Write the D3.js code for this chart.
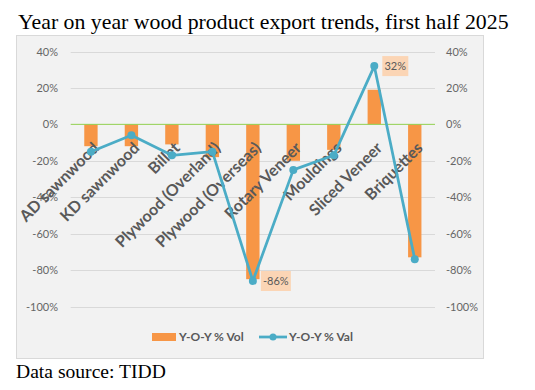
<!DOCTYPE html>
<html>
<head>
<meta charset="utf-8">
<script src="https://d3js.org/d3.v7.min.js"></script>
<style>
  body { margin: 0; background: #fff; }
</style>
</head>
<body>
<svg width="535" height="390"></svg>
<script>
const categories = ["AD sawnwood", "KD sawnwood", "Billet", "Plywood (Overland)", "Plywood  (Overseas)",
                    "Rotary Veneer", "Mouldings", "Sliced Veneer", "Briquettes"];
const volChange = [-12, -12, -11, -18, -85, -20, -14, 19, -73];
const valChange = [-15, -6, -17, -15, -86, -25, -17, 32, -74];
const labelled = [4, 7];   // points with a data label
const yTicks = [40, 20, 0, -20, -40, -60, -80, -100];

const svg = d3.select("svg");
const grey = "#595959";

// chart box
svg.append("rect")
  .attr("x", 16.5).attr("y", 35.5).attr("width", 467).attr("height", 323)
  .attr("fill", "#f2f2f2").attr("stroke", "#d9d9d9");

// title + source
svg.append("text").attr("x", 18).attr("y", 29)
  .style("font-family", "Liberation Serif").style("font-size", "21.8px")
  .text("Year on year wood product export trends, first half 2025");
svg.append("text").attr("x", 16).attr("y", 378)
  .style("font-family", "Liberation Serif").style("font-size", "19.6px")
  .text("Data source: TIDD");

const x = d3.scaleBand().domain(categories).range([70.7, 435]);
const y = d3.scaleLinear().domain([-100, 40]).range([306.5, 51.5]);

// gridlines
svg.append("g").selectAll("line").data(yTicks.filter(d => d !== 0)).join("line")
  .attr("x1", 70.7).attr("x2", 435)
  .attr("y1", d => Math.round(y(d)) + 0.5).attr("y2", d => Math.round(y(d)) + 0.5)
  .attr("stroke", "#d9d9d9");

// left and right axes
const fmt = d => d + "%";
const left = svg.append("g").attr("transform", "translate(61,0)")
  .call(d3.axisLeft(y).tickValues(yTicks).tickFormat(fmt).tickSize(0));
const right = svg.append("g").attr("transform", "translate(443,0)")
  .call(d3.axisRight(y).tickValues(yTicks).tickFormat(fmt).tickSize(0));
[left, right].forEach(g => {
  g.select(".domain").remove();
  g.selectAll("text").attr("fill", "#666")
    .style("font-family", "Lato").style("font-size", "11px");
});

// bars
const bw = x.bandwidth() * 0.33;
svg.append("g").selectAll("rect").data(categories).join("rect")
  .attr("x", (d) => x(d) + x.bandwidth() / 2 - bw / 2)
  .attr("width", bw)
  .attr("y", (d, i) => y(Math.max(0, volChange[i])))
  .attr("height", (d, i) => Math.abs(y(volChange[i]) - y(0)))
  .attr("fill", "#f79646");

// zero line
svg.append("line").attr("x1", 70.7).attr("x2", 435)
  .attr("y1", y(0)).attr("y2", y(0))
  .attr("stroke", "#92d050").attr("stroke-width", 1);

// category labels
svg.append("g").selectAll("text").data(categories).join("text")
  .attr("transform", d => `translate(${x(d) + x.bandwidth() / 2 + 9},149) rotate(-45)`)
  .attr("text-anchor", "end")
  .attr("fill", grey)
  .style("font-family", "Lato").style("font-weight", "bold").style("font-size", "16px")
  .text(d => d);

// value line
const cx = d => x(d) + x.bandwidth() / 2;
const line = d3.line().x((d, i) => cx(categories[i])).y(d => y(d));
svg.append("path").datum(valChange).attr("d", line)
  .attr("fill", "none").attr("stroke", "#4bacc6").attr("stroke-width", 2.75)
  .attr("stroke-linejoin", "round");
svg.append("g").selectAll("circle").data(valChange).join("circle")
  .attr("cx", (d, i) => cx(categories[i])).attr("cy", d => y(d)).attr("r", 4)
  .attr("fill", "#4bacc6");

// data labels
const lab = svg.append("g").selectAll("g").data(labelled).join("g")
  .attr("transform", i => `translate(${cx(categories[i]) + 8},${y(valChange[i])})`);
lab.append("rect").attr("x", 0).attr("y", -10).attr("width", d => valChange[d] < 0 ? 30 : 26).attr("height", 20)
  .attr("fill", "#fbd5b5");
lab.append("text").attr("x", d => valChange[d] < 0 ? 15 : 13).attr("y", 4).attr("text-anchor", "middle")
  .attr("fill", grey).style("font-family", "Lato").style("font-size", "11px")
  .text(i => valChange[i] + "%");

// legend
const lg = svg.append("g");
lg.append("rect").attr("x", 152).attr("y", 333).attr("width", 24).attr("height", 8).attr("fill", "#f79646");
lg.append("text").attr("x", 179).attr("y", 341).attr("fill", grey)
  .style("font-family", "Lato").style("font-weight", "bold").style("font-size", "12px").text("Y-O-Y % Vol");
lg.append("line").attr("x1", 259).attr("x2", 287).attr("y1", 337).attr("y2", 337)
  .attr("stroke", "#4bacc6").attr("stroke-width", 2.75);
lg.append("circle").attr("cx", 273).attr("cy", 337).attr("r", 3.5).attr("fill", "#4bacc6");
lg.append("text").attr("x", 289).attr("y", 341).attr("fill", grey)
  .style("font-family", "Lato").style("font-weight", "bold").style("font-size", "12px").text("Y-O-Y % Val");
</script>
</body>
</html>
